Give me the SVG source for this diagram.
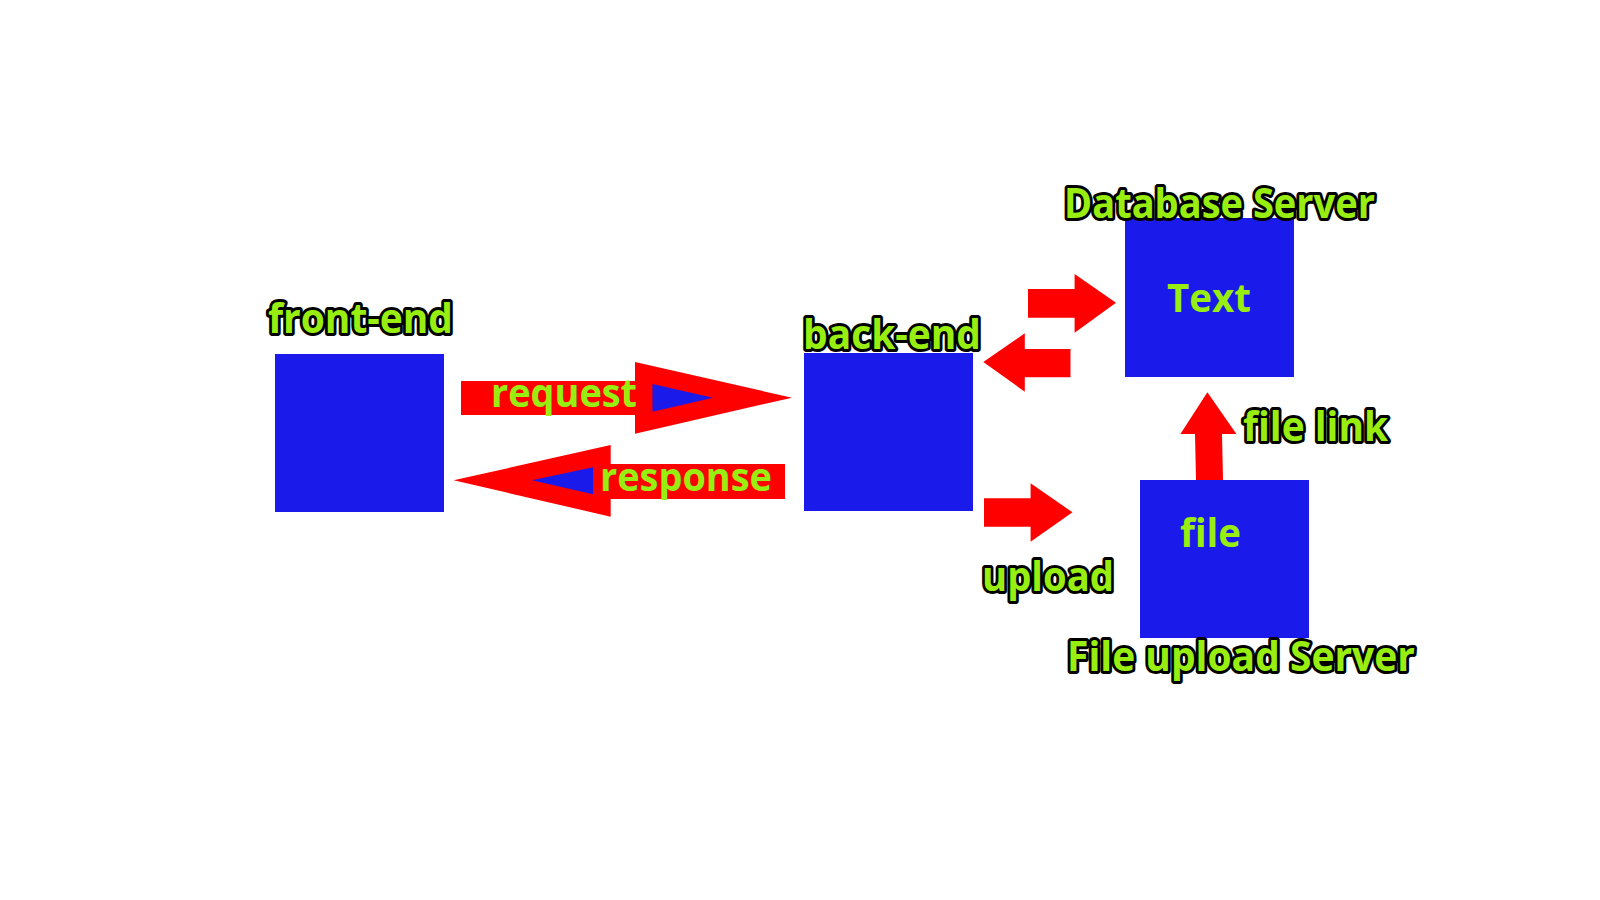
<svg xmlns="http://www.w3.org/2000/svg" width="1600" height="900" viewBox="0 0 1600 900">
<style>
.box{fill:#1a1aeb}
.arr{fill:#ff0000}
.inner{fill:#1a1aeb}
.lbl{font-family:"Open Sans","Noto Sans","Liberation Sans",sans-serif;font-weight:bold;font-size:41px;fill:#99ee11;stroke:#000;stroke-width:6;stroke-linejoin:round;paint-order:stroke}
.in{font-family:"Open Sans","Noto Sans","Liberation Sans",sans-serif;font-weight:bold;font-size:40px;fill:#99ee11}
</style>
<rect width="1600" height="900" fill="#fff"/>
<g id="front-end">
<rect class="box" x="275" y="354" width="169" height="158"/>
<text class="lbl" x="268" y="333" textLength="185" lengthAdjust="spacingAndGlyphs">front-end</text>
</g>
<g id="back-end">
<rect class="box" x="804" y="353" width="169" height="158"/>
<text class="lbl" x="803" y="349" textLength="178" lengthAdjust="spacingAndGlyphs">back-end</text>
</g>
<g id="database-server">
<rect class="box" x="1125" y="218" width="169" height="159"/>
<text class="in" x="1167" y="312" font-size="42" textLength="84" lengthAdjust="spacingAndGlyphs">Text</text>
<text class="lbl" x="1064" y="218" textLength="311" lengthAdjust="spacingAndGlyphs">Database Server</text>
</g>
<g id="file-upload-server">
<rect class="box" x="1140" y="480" width="169" height="158"/>
<text class="in" x="1180" y="547" font-size="43" textLength="61" lengthAdjust="spacingAndGlyphs">file</text>
<text class="lbl" x="1067" y="671" textLength="348" lengthAdjust="spacingAndGlyphs">File upload Server</text>
</g>
<g id="connectors">
<g id="request">
<rect class="arr" x="461" y="381" width="176" height="34"/>
<polygon class="arr" points="635,362 792,397.7 635,433.7"/>
<polygon class="inner" points="652.5,384 713,397.7 652.5,411.7"/>
<text class="in" x="491" y="407" font-size="38" textLength="146" lengthAdjust="spacingAndGlyphs">request</text>
</g>
<g id="response">
<rect class="arr" x="607" y="464" width="178" height="35"/>
<polygon class="arr" points="610.7,445 453.6,480.3 610.7,516.7"/>
<polygon class="inner" points="593,467.3 532,480.3 593,494.3"/>
<text class="in" x="600" y="491" font-size="38" textLength="172" lengthAdjust="spacingAndGlyphs">response</text>
</g>
<polygon class="arr" points="1028,289 1074.6,289 1074.6,274 1116,302.7 1074.6,332.7 1074.6,317.7 1028,317.7"/>
<polygon class="arr" points="1070.5,349 1024.8,349 1024.8,333.3 983.3,362 1024.8,391.7 1024.8,377.3 1070.5,377.3"/>
<polygon class="arr" points="984,498.3 1030.6,498.3 1030.6,483.3 1072.5,512.3 1030.6,541.7 1030.6,526.7 984,526.7"/>
<text class="lbl" x="982" y="591" textLength="132" lengthAdjust="spacingAndGlyphs">upload</text>
<polygon class="arr" points="1196,480 1195,434 1180.4,434 1207.4,392.3 1236.4,434 1222,434 1223,480"/>
<text class="lbl" x="1243" y="441" textLength="145" lengthAdjust="spacingAndGlyphs">file link</text>
</g>
</svg>
